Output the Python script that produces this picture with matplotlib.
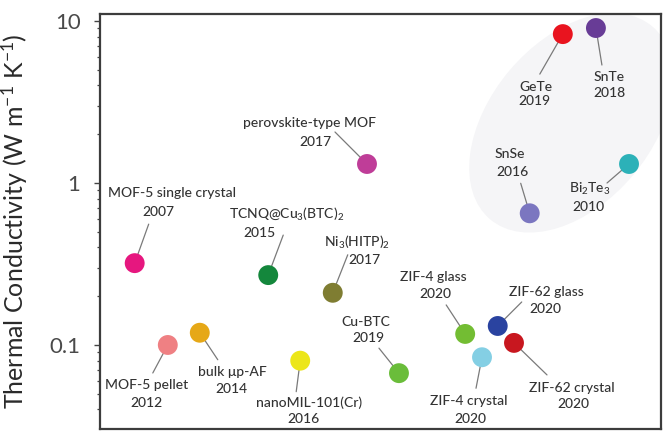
import matplotlib
matplotlib.use('Agg')
import matplotlib.pyplot as plt
import matplotlib.transforms as mtransforms
from matplotlib.patches import Ellipse
from matplotlib.ticker import LogLocator, NullFormatter

plt.rcParams['font.family'] = ['Lato', 'DejaVu Sans']
plt.rcParams['mathtext.fontset'] = 'custom'
plt.rcParams['mathtext.rm'] = 'Lato'
plt.rcParams['mathtext.it'] = 'Lato:italic'
plt.rcParams['mathtext.bf'] = 'Lato:bold'
plt.rcParams['mathtext.default'] = 'regular'

# materials, year reported, thermal conductivity (W m-1 K-1)
names = ['MOF-5 single crystal', 'MOF-5 pellet', 'bulk μp-AF', 'TCNQ@Cu$_3$(BTC)$_2$',
         'nanoMIL-101(Cr)', 'Ni$_3$(HITP)$_2$', 'perovskite-type MOF', 'Cu-BTC',
         'ZIF-4 glass', 'ZIF-4 crystal', 'ZIF-62 glass', 'ZIF-62 crystal',
         'SnSe', 'GeTe', 'SnTe', 'Bi$_2$Te$_3$']
years = ['2007', '2012', '2014', '2015', '2016', '2017', '2017', '2019',
         '2020', '2020', '2020', '2020', '2016', '2019', '2018', '2010']
kappa = [0.32, 0.10, 0.119, 0.27, 0.080, 0.21, 1.31, 0.067,
         0.117, 0.084, 0.131, 0.103, 0.65, 8.3, 9.05, 1.31]
xpos = [6.2, 12.1, 17.8, 30.0, 35.7, 41.5, 47.6, 53.3,
        65.1, 68.1, 70.9, 73.8, 76.6, 82.5, 88.4, 94.3]
colors = ['#e6177f', '#ef8083', '#e6a817', '#14873c', '#ece619', '#7f7d32',
          '#bf3d98', '#6abd3a', '#73bd33', '#84cfe4', '#2a43a0', '#c8171f',
          '#7b76c0', '#e9141f', '#683c96', '#2cb1b8']

# label layout in pixels from the dot: name (dx, dy), year (dx, dy), leader start (dx, dy)
label_offsets = [
    (37, 70, 24, 51, 14, 39),
    (-21, -40, -21, -58, -15, -28),
    (33, -39, 32, -56, 18, -27),
    (18, 61, -9, 42, 15, 40),
    (9, -42, 3, -58, -4, -31),
    (24, 51, 32, 33, 15, 38),
    (-57, 41, -52, 22, -32, 32),
    (-33, 51, -31, 35, -20, 25),
    (-32, 57, -30, 40, -19, 29),
    (-13, -44, -12, -62, -6, -31),
    (49, 34, 48, 17, 24, 24),
    (58, -45, 59, -61, 33, -32),
    (-20, 59, -17, 41, -9, 30),
    (-27, -53, -28, -67, -23, -40),
    (13, -49, 14, -65, 6, -37),
    (-39, -25, -41, -43, -22, -19),
]

fig = plt.figure(figsize=(6.66, 4.45), dpi=100)
ax = fig.add_axes([0.150, 0.036, 0.8425, 0.9326])
ax.set_yscale('log')
ax.set_xlim(0, 100)
ax.set_ylim(0.0303, 11.05)

# shaded region around the inorganic thermoelectrics
trans = fig.dpi_scale_trans + mtransforms.ScaledTranslation(84.0, 2.35, ax.transData)
ell = Ellipse((0, 0), 2.52, 1.62, angle=50, transform=trans,
              facecolor='#f5f5f7', edgecolor='none', zorder=0)
ax.add_patch(ell)

for i in range(len(names)):
    ndx, ndy, ydx, ydy, ldx, ldy = label_offsets[i]
    ax.annotate('', xy=(xpos[i], kappa[i]), xytext=(ldx, ldy),
                textcoords='offset pixels',
                arrowprops=dict(arrowstyle='-', color='#7a7a7a', lw=0.9,
                                shrinkA=0, shrinkB=0), zorder=2)
    ax.annotate(names[i], xy=(xpos[i], kappa[i]), xytext=(ndx, ndy),
                textcoords='offset pixels', ha='center', va='center',
                fontsize=10, fontweight='medium', color='#333333', zorder=4)
    ax.annotate(years[i], xy=(xpos[i], kappa[i]), xytext=(ydx, ydy),
                textcoords='offset pixels', ha='center', va='center',
                fontsize=10, fontweight='medium', color='#333333', zorder=4)

ax.scatter(xpos, kappa, s=205, c=colors, edgecolors='none', zorder=3)

ax.set_yticks([0.1, 1, 10])
ax.set_yticklabels(['0.1', '1', '10'])
ax.yaxis.set_minor_locator(LogLocator(base=10, subs=range(2, 10)))
ax.yaxis.set_minor_formatter(NullFormatter())
ax.set_xticks([])
ax.tick_params(axis='y', which='major', length=4, width=1, color='#444444',
               labelsize=16, labelcolor='#4a4a4a', pad=10)
ax.tick_params(axis='y', which='minor', length=2.5, width=0.9, color='#444444')

for s in ax.spines.values():
    s.set_linewidth(1.6)
    s.set_color('#3c3c3c')

ax.set_ylabel('Thermal Conductivity (W m$^{-1}$ K$^{-1}$)', fontsize=18,
              color='#2a2a2a')
ax.yaxis.set_label_coords(-0.125, 0.5)

fig.savefig('out.png', dpi=100)
